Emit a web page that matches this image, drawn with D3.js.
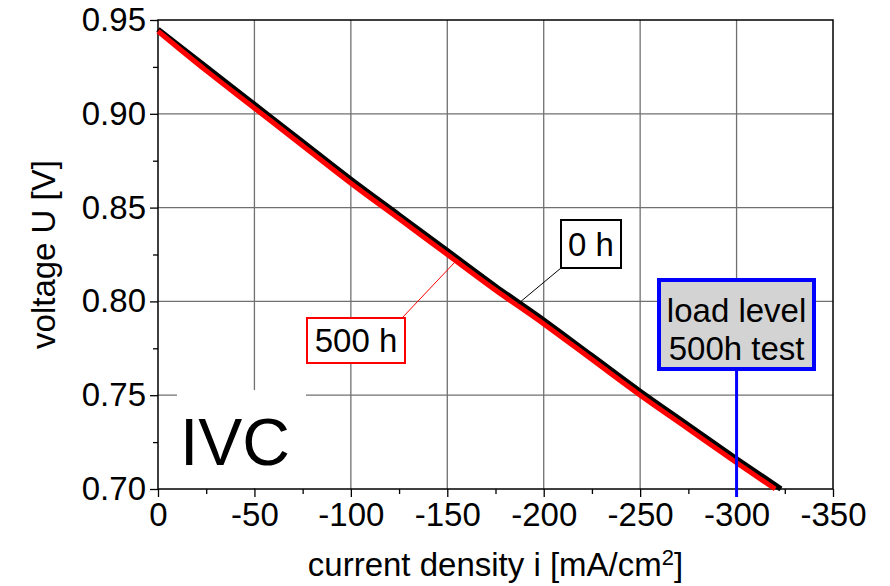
<!DOCTYPE html>
<html>
<head>
<meta charset="utf-8">
<script src="https://cdn.jsdelivr.net/npm/d3@7"></script>
<style>
  body { margin: 0; background: #fff; }
  svg { display: block; font-family: "Liberation Sans", Arial, sans-serif; }
</style>
</head>
<body>
<svg></svg>
<script>
// current density [mA/cm2] and voltage [V]
var current0 = [0, -25, -50, -75, -100, -125, -150, -175, -200, -225, -250, -275, -300, -323];
var voltage0 = [0.945, 0.925, 0.905, 0.885, 0.865, 0.846, 0.827, 0.808, 0.790, 0.771, 0.752, 0.734, 0.716, 0.700];
var current500 = [0, -25, -50, -75, -100, -125, -150, -175, -200, -225, -250, -275, -300, -320];
var voltage500 = [0.944, 0.923, 0.903, 0.883, 0.863, 0.844, 0.825, 0.806, 0.788, 0.769, 0.750, 0.732, 0.714, 0.700];
var xTicks = [0, -50, -100, -150, -200, -250, -300, -350];
var yTicks = [0.70, 0.75, 0.80, 0.85, 0.90, 0.95];
var loadLevel = -300;

var svg = d3.select('svg')
            .attr('width', 890)
            .attr('height', 586);

var x = d3.scaleLinear().domain([0, -350]).range([158, 833]);
var y = d3.scaleLinear().domain([0.70, 0.95]).range([489, 20]);

// grid
svg.append('g')
   .selectAll('line')
   .data(xTicks.slice(1, -1))
   .enter()
   .append('line')
   .attr('x1', d => x(d)).attr('x2', d => x(d))
   .attr('y1', y(0.95)).attr('y2', y(0.70))
   .attr('stroke', '#707070')
   .attr('stroke-width', 1.3);
svg.append('g')
   .selectAll('line')
   .data(yTicks.slice(1, -1))
   .enter()
   .append('line')
   .attr('y1', d => y(d)).attr('y2', d => y(d))
   .attr('x1', x(0)).attr('x2', x(-350))
   .attr('stroke', '#707070')
   .attr('stroke-width', 1.3);

// white patch behind the IVC label
svg.append('rect')
   .attr('x', 177).attr('y', 390)
   .attr('width', 129).attr('height', 98)
   .attr('fill', '#fff');

// axes (plain hyphen for the minus sign, as in the original)
var xAxis = d3.axisBottom(x).tickValues(xTicks).tickSize(8).tickPadding(6).tickFormat(d => String(d));
var xMinor = d3.axisBottom(x).tickValues(d3.range(-25, -350, -50)).tickSize(5).tickFormat('');
var yAxis = d3.axisLeft(y).tickValues(yTicks).tickSize(8).tickPadding(4).tickFormat(d => d.toFixed(2));
var yMinor = d3.axisLeft(y).tickValues([0.725, 0.775, 0.825, 0.875, 0.925]).tickSize(5).tickFormat('');

var gx = svg.append('g').attr('transform', 'translate(0,' + y(0.70) + ')').call(xAxis);
svg.append('g').attr('transform', 'translate(0,' + y(0.70) + ')').call(xMinor);
var gy = svg.append('g').attr('transform', 'translate(' + x(0) + ',0)').call(yAxis);
svg.append('g').attr('transform', 'translate(' + x(0) + ',0)').call(yMinor);

svg.selectAll('.domain').remove();
svg.selectAll('.tick line').attr('stroke', '#000').attr('stroke-width', 1.3);
gx.selectAll('text')
  .attr('font-size', '33px')
  .attr('fill', '#000')
  .attr('font-family', '"Liberation Sans", Arial, sans-serif');
gy.selectAll('text')
  .attr('font-size', '33px')
  .attr('fill', '#000')
  .attr('font-family', '"Liberation Sans", Arial, sans-serif');

// frame
svg.append('rect')
   .attr('x', x(0)).attr('y', y(0.95))
   .attr('width', x(-350) - x(0)).attr('height', y(0.70) - y(0.95))
   .attr('fill', 'none')
   .attr('stroke', '#000')
   .attr('stroke-width', 1.5);

// curves
var line = d3.line().x(d => x(d[0])).y(d => y(d[1])).curve(d3.curveMonotoneX);
svg.append('path')
   .datum(d3.zip(current0, voltage0))
   .attr('d', line)
   .attr('fill', 'none')
   .attr('stroke', '#000')
   .attr('stroke-width', 5.5)
   .attr('stroke-linejoin', 'round');
svg.append('path')
   .datum(d3.zip(current500, voltage500))
   .attr('d', line)
   .attr('fill', 'none')
   .attr('stroke', '#ff0000')
   .attr('stroke-width', 5)
   .attr('stroke-linejoin', 'round');

// IVC label
svg.append('text')
   .text('IVC')
   .attr('x', 180).attr('y', 465)
   .attr('font-size', '66px');

// annotation: 0 h
svg.append('line')
   .attr('x1', 561).attr('y1', 268)
   .attr('x2', x(-187)).attr('y2', y(0.799))
   .attr('stroke', '#000').attr('stroke-width', 1);
svg.append('rect')
   .attr('x', 561).attr('y', 220).attr('width', 60).attr('height', 48)
   .attr('fill', '#fff').attr('stroke', '#000').attr('stroke-width', 2);
svg.append('text')
   .text('0 h')
   .attr('x', 591).attr('y', 256)
   .attr('text-anchor', 'middle')
   .attr('font-size', '33px');

// annotation: 500 h
svg.append('line')
   .attr('x1', 402).attr('y1', 318)
   .attr('x2', x(-154)).attr('y2', y(0.821))
   .attr('stroke', '#ff0000').attr('stroke-width', 1);
svg.append('rect')
   .attr('x', 307).attr('y', 318).attr('width', 98).attr('height', 45)
   .attr('fill', '#fff').attr('stroke', '#ff0000').attr('stroke-width', 2);
svg.append('text')
   .text('500 h')
   .attr('x', 356).attr('y', 352)
   .attr('text-anchor', 'middle')
   .attr('font-size', '33px');

// load level marker
svg.append('line')
   .attr('x1', x(loadLevel)).attr('x2', x(loadLevel))
   .attr('y1', 370).attr('y2', y(0.70) + 8)
   .attr('stroke', '#0000ff').attr('stroke-width', 3);
svg.append('rect')
   .attr('x', 659).attr('y', 280).attr('width', 155).attr('height', 89)
   .attr('fill', '#d3d3d3').attr('stroke', '#0000ff').attr('stroke-width', 4);
svg.append('text')
   .text('load level')
   .attr('x', x(loadLevel)).attr('y', 322)
   .attr('text-anchor', 'middle')
   .attr('font-size', '33px');
svg.append('text')
   .text('500h test')
   .attr('x', x(loadLevel)).attr('y', 360)
   .attr('text-anchor', 'middle')
   .attr('font-size', '33px');

// axis titles
var xt = svg.append('text')
   .attr('x', (x(0) + x(-350)) / 2).attr('y', 576)
   .attr('text-anchor', 'middle')
   .attr('font-size', '33px');
xt.append('tspan').text('current density i [mA/cm');
xt.append('tspan').text('2').attr('font-size', '22px').attr('dy', -11);
xt.append('tspan').text(']').attr('dy', 11);

svg.append('text')
   .text('voltage U [V]')
   .attr('transform', 'translate(55,' + (y(0.825)) + ') rotate(-90)')
   .attr('text-anchor', 'middle')
   .attr('font-size', '33px');
</script>
</body>
</html>
